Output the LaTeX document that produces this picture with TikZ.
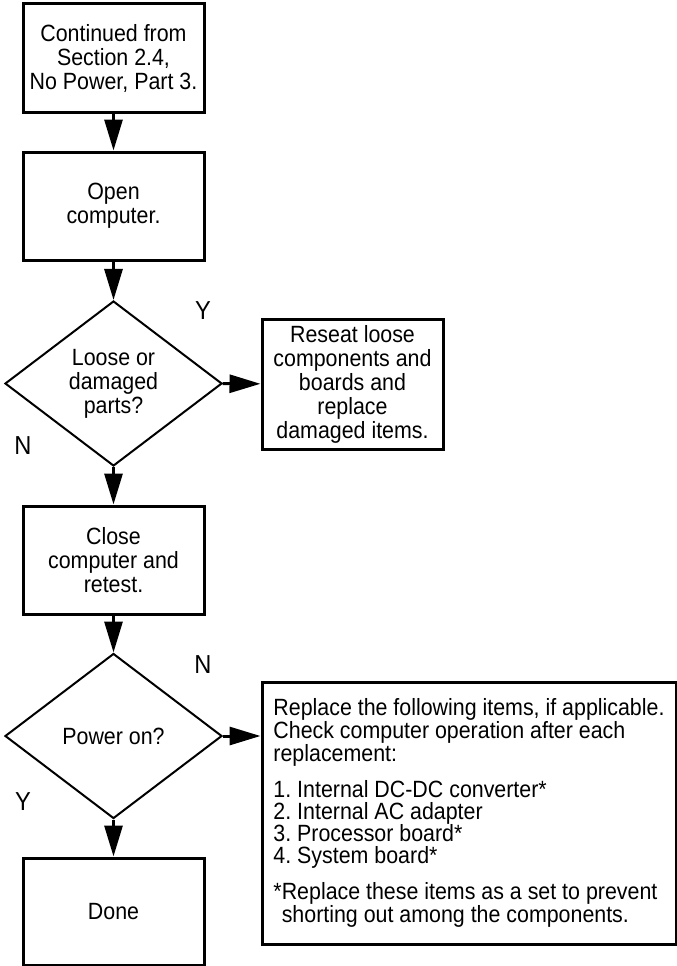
\documentclass[tikz,border=0pt]{standalone}
\usepackage{fontspec}
\setmainfont{Liberation Sans}[FakeStretch=0.91]
\frenchspacing
\usetikzlibrary{arrows.meta,shapes.geometric}
\begin{document}
\begin{tikzpicture}[x=1pt,y=-1pt,>={Triangle[length=31pt,width=18pt]},
    box/.style={draw,line width=3pt,minimum width=181pt,minimum height=108pt,inner sep=0pt,align=center,font=\fontsize{23.5}{24}\selectfont},
    decision/.style={draw,diamond,line width=2pt,minimum width=217pt,minimum height=165pt,inner sep=0pt,align=center,font=\fontsize{23.5}{24}\selectfont},
    yn/.style={font=\fontsize{26}{26}\selectfont},
    flow/.style={->,line width=3pt}]
        \useasboundingbox (0,0) rectangle (677,966);
        \node[box] (start) at (113.5,58) {Continued from\\Section 2.4,\\No Power, Part 3.};
        \node[box] (open) at (113.5,206) {Open\\computer.};
        \node[decision] (loose) at (113.5,383.5) {Loose or\\damaged\\parts?};
        \node[box,minimum height=130pt] (reseat) at (352.5,384) {Reseat loose\\components and\\boards and\\replace\\damaged items.};
        \node[box] (close) at (113.5,560) {Close\\computer and\\retest.};
        \node[decision] (power) at (113.5,736) {Power on?};
        \node[box,minimum height=107pt] (done) at (113.5,911.5) {Done};
        \node[box,minimum width=414pt,minimum height=262pt,align=left,font=\fontsize{23.5}{21.6}\selectfont] (replace) at (469,813)
            {Replace the following items, if applicable.\\
             Check computer operation after each\\
             replacement:\\[13.4pt]
             1. Internal DC-DC converter*\\
             2. Internal AC adapter\\
             3. Processor board*\\
             4. System board*\\[13.4pt]
             *Replace these items as a set to prevent\\
             \hphantom{*}shorting out among the components.};
        % labels
        \node[yn] (yLoose) at (203,311) {Y};
        \node[yn] (nLoose) at (23,446) {N};
        \node[yn] (nPower) at (203,665) {N};
        \node[yn] (yPower) at (23,802) {Y};
        % arrows
        \draw[flow] (start) -- (open);
        \draw[flow] (open) -- (loose);
        \draw[flow] (loose) -- (reseat);
        \draw[flow] (loose) -- (close);
        \draw[flow] (close) -- (power);
        \draw[flow] (power.east) -- (power.east -| replace.west);
        \draw[flow] (power) -- (done);
\end{tikzpicture}
\end{document}
